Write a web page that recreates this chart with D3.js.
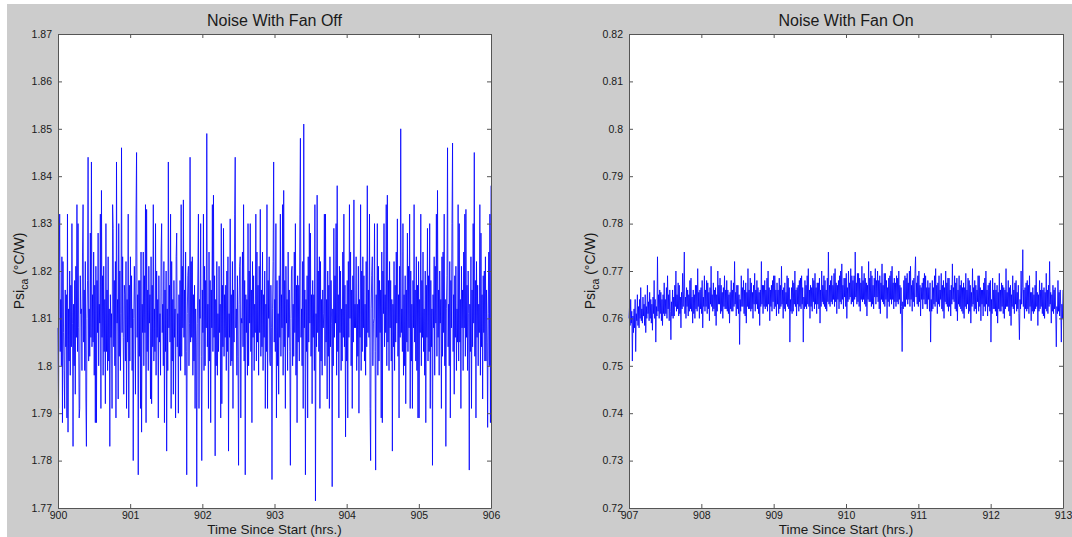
<!DOCTYPE html>
<html lang="en">
<head>
    <meta charset="UTF-8">
    <title>Noise With Fan Off / On</title>
    <script src="https://cdn.jsdelivr.net/npm/d3@7"></script>
    <style>
        html, body { margin: 0; padding: 0; background: #ffffff; }
        svg { display: block; }
        text { font-family: "Liberation Sans", Arial, sans-serif; fill: #1a1a1a; }
    </style>
</head>
<body>
<div id="chart"></div>
<script>

    // ---- data ----

    const titles = ['Noise With Fan Off', 'Noise With Fan On'];
    const xLabel = 'Time Since Start (hrs.)';

    const xRangeOff = [900, 906];
    const xRangeOn = [907, 913];
    const xTicksOff = [900, 901, 902, 903, 904, 905, 906];
    const xTicksOn = [907, 908, 909, 910, 911, 912, 913];

    const yTicksOff = [1.77, 1.78, 1.79, 1.8, 1.81, 1.82, 1.83, 1.84, 1.85, 1.86, 1.87];
    const yTicksOn = [0.72, 0.73, 0.74, 0.75, 0.76, 0.77, 0.78, 0.79, 0.8, 0.81, 0.82];

    // Psi_ca samples, fan off (900 - 906 h)
    const psiFanOff = [
        1.808, 1.791, 1.819, 1.832, 1.803, 1.814, 1.800, 1.823, 1.788, 1.822, 1.807, 1.799, 1.791, 1.816, 1.804, 1.815, 1.789, 1.832, 1.786, 1.812, 1.801, 1.820, 1.798, 1.817, 1.804, 1.830, 1.809, 1.783, 1.813, 1.800,
        1.818, 1.794, 1.821, 1.806, 1.834, 1.803, 1.830, 1.808, 1.789, 1.791, 1.819, 1.811, 1.812, 1.799, 1.824, 1.834, 1.805, 1.816, 1.799, 1.822, 1.793, 1.783, 1.810, 1.818, 1.844, 1.801, 1.812, 1.802, 1.828, 1.806,
        1.843, 1.804, 1.815, 1.805, 1.824, 1.798, 1.817, 1.788, 1.821, 1.788, 1.818, 1.807, 1.828, 1.800, 1.813, 1.809, 1.832, 1.791, 1.837, 1.806, 1.819, 1.798, 1.821, 1.803, 1.814, 1.792, 1.830, 1.803, 1.816, 1.799,
        1.823, 1.801, 1.812, 1.783, 1.815, 1.806, 1.811, 1.791, 1.834, 1.829, 1.804, 1.818, 1.800, 1.822, 1.789, 1.843, 1.809, 1.814, 1.793, 1.830, 1.802, 1.820, 1.799, 1.811, 1.846, 1.807, 1.823, 1.806, 1.794, 1.817,
        1.815, 1.801, 1.822, 1.791, 1.814, 1.805, 1.832, 1.789, 1.817, 1.801, 1.823, 1.808, 1.819, 1.799, 1.812, 1.780, 1.810, 1.821, 1.812, 1.794, 1.832, 1.845, 1.806, 1.815, 1.777, 1.818, 1.802, 1.818, 1.791, 1.824,
        1.786, 1.813, 1.807, 1.824, 1.800, 1.819, 1.807, 1.834, 1.788, 1.833, 1.803, 1.816, 1.799, 1.821, 1.809, 1.815, 1.793, 1.823, 1.792, 1.817, 1.804, 1.834, 1.801, 1.812, 1.803, 1.830, 1.798, 1.820, 1.806, 1.814,
        1.789, 1.819, 1.805, 1.811, 1.798, 1.824, 1.830, 1.807, 1.813, 1.800, 1.822, 1.788, 1.816, 1.803, 1.820, 1.782, 1.812, 1.799, 1.843, 1.808, 1.817, 1.805, 1.832, 1.791, 1.822, 1.801, 1.814, 1.794, 1.818, 1.806,
        1.812, 1.789, 1.823, 1.828, 1.804, 1.811, 1.790, 1.815, 1.802, 1.818, 1.799, 1.834, 1.802, 1.821, 1.808, 1.835, 1.806, 1.816, 1.798, 1.824, 1.803, 1.777, 1.811, 1.819, 1.821, 1.800, 1.809, 1.844, 1.805, 1.822,
        1.806, 1.823, 1.798, 1.815, 1.801, 1.817, 1.791, 1.812, 1.805, 1.7745, 1.809, 1.820, 1.832, 1.791, 1.814, 1.810, 1.830, 1.802, 1.780, 1.816, 1.807, 1.832, 1.799, 1.821, 1.800, 1.818, 1.808, 1.849, 1.804, 1.813,
        1.791, 1.824, 1.801, 1.818, 1.788, 1.816, 1.808, 1.834, 1.803, 1.836, 1.806, 1.819, 1.781, 1.814, 1.800, 1.822, 1.798, 1.811, 1.803, 1.821, 1.807, 1.813, 1.789, 1.830, 1.792, 1.817, 1.804, 1.829, 1.802, 1.815,
        1.806, 1.817, 1.799, 1.820, 1.803, 1.823, 1.782, 1.811, 1.806, 1.831, 1.800, 1.815, 1.801, 1.822, 1.791, 1.816, 1.805, 1.832, 1.844, 1.808, 1.812, 1.798, 1.819, 1.802, 1.779, 1.813, 1.821, 1.823, 1.789, 1.810,
        1.809, 1.824, 1.804, 1.834, 1.801, 1.818, 1.777, 1.815, 1.807, 1.814, 1.798, 1.830, 1.800, 1.820, 1.809, 1.830, 1.803, 1.816, 1.788, 1.822, 1.806, 1.819, 1.799, 1.813, 1.807, 1.832, 1.801, 1.824, 1.805, 1.817,
        1.798, 1.821, 1.807, 1.833, 1.802, 1.816, 1.804, 1.824, 1.799, 1.815, 1.806, 1.820, 1.791, 1.813, 1.803, 1.834, 1.791, 1.818, 1.810, 1.823, 1.801, 1.800, 1.817, 1.808, 1.776, 1.812, 1.822, 1.843, 1.805, 1.814,
        1.803, 1.830, 1.789, 1.818, 1.800, 1.811, 1.794, 1.819, 1.806, 1.832, 1.802, 1.815, 1.808, 1.834, 1.798, 1.837, 1.804, 1.818, 1.791, 1.821, 1.809, 1.814, 1.799, 1.824, 1.806, 1.816, 1.803, 1.779, 1.810, 1.820,
        1.821, 1.800, 1.813, 1.802, 1.824, 1.807, 1.830, 1.798, 1.817, 1.788, 1.819, 1.805, 1.817, 1.801, 1.832, 1.848, 1.806, 1.812, 1.800, 1.822, 1.791, 1.851, 1.808, 1.816, 1.777, 1.814, 1.803, 1.819, 1.789, 1.823,
        1.805, 1.830, 1.809, 1.828, 1.802, 1.815, 1.792, 1.818, 1.806, 1.815, 1.799, 1.834, 1.7715, 1.811, 1.804, 1.836, 1.807, 1.820, 1.803, 1.823, 1.791, 1.822, 1.801, 1.814, 1.798, 1.816, 1.808, 1.811, 1.832, 1.800,
        1.832, 1.805, 1.814, 1.793, 1.820, 1.802, 1.817, 1.791, 1.823, 1.804, 1.818, 1.809, 1.7745, 1.812, 1.800, 1.829, 1.806, 1.819, 1.809, 1.830, 1.798, 1.838, 1.803, 1.815, 1.789, 1.821, 1.807, 1.820, 1.799, 1.812,
        1.801, 1.824, 1.806, 1.832, 1.804, 1.817, 1.785, 1.813, 1.801, 1.818, 1.789, 1.822, 1.806, 1.834, 1.810, 1.824, 1.800, 1.816, 1.791, 1.819, 1.805, 1.835, 1.808, 1.813, 1.808, 1.823, 1.799, 1.813, 1.802, 1.821,
        1.790, 1.814, 1.806, 1.834, 1.799, 1.820, 1.803, 1.823, 1.808, 1.819, 1.801, 1.813, 1.798, 1.822, 1.804, 1.838, 1.807, 1.816, 1.806, 1.832, 1.791, 1.780, 1.812, 1.819, 1.823, 1.800, 1.809, 1.810, 1.830, 1.803,
        1.778, 1.815, 1.806, 1.830, 1.798, 1.821, 1.801, 1.818, 1.807, 1.816, 1.789, 1.824, 1.788, 1.820, 1.811, 1.830, 1.804, 1.815, 1.807, 1.834, 1.800, 1.836, 1.805, 1.818, 1.799, 1.822, 1.808, 1.818, 1.801, 1.814,
        1.782, 1.813, 1.804, 1.822, 1.799, 1.817, 1.805, 1.824, 1.809, 1.831, 1.802, 1.815, 1.789, 1.821, 1.806, 1.850, 1.807, 1.812, 1.803, 1.830, 1.798, 1.815, 1.800, 1.819, 1.792, 1.816, 1.805, 1.828, 1.803, 1.821,
        1.808, 1.832, 1.791, 1.820, 1.801, 1.813, 1.791, 1.818, 1.808, 1.834, 1.805, 1.816, 1.801, 1.823, 1.799, 1.817, 1.789, 1.822, 1.789, 1.814, 1.807, 1.832, 1.800, 1.818, 1.806, 1.824, 1.803, 1.812, 1.798, 1.820,
        1.788, 1.817, 1.806, 1.829, 1.801, 1.819, 1.803, 1.830, 1.791, 1.818, 1.804, 1.812, 1.779, 1.815, 1.808, 1.823, 1.798, 1.821, 1.809, 1.832, 1.802, 1.837, 1.806, 1.816, 1.798, 1.820, 1.809, 1.814, 1.791, 1.823,
        1.802, 1.824, 1.807, 1.832, 1.800, 1.814, 1.783, 1.812, 1.819, 1.846, 1.804, 1.813, 1.800, 1.822, 1.789, 1.818, 1.808, 1.830, 1.847, 1.803, 1.815, 1.794, 1.819, 1.806, 1.821, 1.799, 1.812, 1.805, 1.834, 1.801,
        1.830, 1.805, 1.814, 1.791, 1.821, 1.808, 1.816, 1.799, 1.824, 1.808, 1.832, 1.802, 1.833, 1.806, 1.817, 1.799, 1.820, 1.811, 1.778, 1.813, 1.803, 1.823, 1.791, 1.816, 1.804, 1.830, 1.809, 1.845, 1.802, 1.818,
        1.789, 1.822, 1.806, 1.817, 1.800, 1.813, 1.807, 1.834, 1.798, 1.828, 1.804, 1.815, 1.793, 1.819, 1.807, 1.820, 1.801, 1.823, 1.801, 1.816, 1.805, 1.787, 1.811, 1.824, 1.800, 1.832, 1.788, 1.838
    ];

    // Psi_ca samples, fan on (907 - 913 h)
    const psiFanOn = [
        0.7600, 0.7625, 0.7585, 0.7640, 0.7590, 0.7615, 0.7510, 0.7605, 0.7570, 0.7620, 0.7580, 0.7640, 0.7530, 0.7610, 0.7595, 0.7650, 0.7585, 0.7625, 0.7580, 0.7640, 0.7600, 0.7665, 0.7595, 0.7620, 0.7590, 0.7645, 0.7605, 0.7630, 0.7585, 0.7650,
        0.7570, 0.7625, 0.7600, 0.7670, 0.7610, 0.7635, 0.7595, 0.7655, 0.7600, 0.7640, 0.7590, 0.7630, 0.7575, 0.7645, 0.7610, 0.7680, 0.7600, 0.7640, 0.7550, 0.7625, 0.7605, 0.7730, 0.7615, 0.7650, 0.7600, 0.7660, 0.7610, 0.7655, 0.7595, 0.7640,
        0.7585, 0.7650, 0.7610, 0.7675, 0.7605, 0.7640, 0.7610, 0.7665, 0.7600, 0.7690, 0.7620, 0.7650, 0.7595, 0.7660, 0.7615, 0.7555, 0.7635, 0.7605, 0.7660, 0.7600, 0.7645, 0.7605, 0.7670, 0.7625, 0.7700, 0.7615, 0.7650, 0.7620, 0.7675, 0.7605,
        0.7670, 0.7610, 0.7645, 0.7580, 0.7655, 0.7620, 0.7695, 0.7625, 0.7660, 0.7740, 0.7610, 0.7645, 0.7600, 0.7665, 0.7625, 0.7660, 0.7605, 0.7650, 0.7615, 0.7680, 0.7620, 0.7685, 0.7615, 0.7645, 0.7590, 0.7660, 0.7610, 0.7650, 0.7600, 0.7670,
        0.7620, 0.7670, 0.7615, 0.7705, 0.7625, 0.7655, 0.7600, 0.7660, 0.7620, 0.7665, 0.7610, 0.7680, 0.7580, 0.7645, 0.7625, 0.7690, 0.7615, 0.7660, 0.7625, 0.7680, 0.7610, 0.7675, 0.7620, 0.7655, 0.7595, 0.7665, 0.7630, 0.7710, 0.7625, 0.7650,
        0.7615, 0.7675, 0.7620, 0.7660, 0.7605, 0.7665, 0.7585, 0.7650, 0.7615, 0.7700, 0.7630, 0.7670, 0.7630, 0.7685, 0.7610, 0.7670, 0.7615, 0.7655, 0.7600, 0.7665, 0.7625, 0.7690, 0.7620, 0.7660, 0.7620, 0.7680, 0.7615, 0.7660, 0.7610, 0.7650,
        0.7590, 0.7655, 0.7620, 0.7680, 0.7615, 0.7660, 0.7615, 0.7675, 0.7625, 0.7720, 0.7630, 0.7655, 0.7605, 0.7670, 0.7620, 0.7670, 0.7610, 0.7650, 0.7545, 0.7640, 0.7615, 0.7690, 0.7625, 0.7665, 0.7625, 0.7680, 0.7610, 0.7660, 0.7605, 0.7675,
        0.7590, 0.7655, 0.7625, 0.7705, 0.7620, 0.7660, 0.7620, 0.7685, 0.7615, 0.7675, 0.7620, 0.7655, 0.7600, 0.7670, 0.7630, 0.7695, 0.7615, 0.7660, 0.7630, 0.7680, 0.7620, 0.7665, 0.7610, 0.7655, 0.7585, 0.7660, 0.7625, 0.7720, 0.7630, 0.7670,
        0.7610, 0.7670, 0.7625, 0.7680, 0.7620, 0.7660, 0.7625, 0.7685, 0.7615, 0.7700, 0.7630, 0.7665, 0.7595, 0.7660, 0.7625, 0.7670, 0.7615, 0.7680, 0.7635, 0.7690, 0.7620, 0.7690, 0.7625, 0.7660, 0.7605, 0.7675, 0.7630, 0.7660, 0.7610, 0.7685,
        0.7620, 0.7670, 0.7625, 0.7710, 0.7630, 0.7660, 0.7600, 0.7665, 0.7620, 0.7675, 0.7615, 0.7655, 0.7630, 0.7690, 0.7625, 0.7685, 0.7620, 0.7665, 0.7550, 0.7640, 0.7615, 0.7665, 0.7610, 0.7680, 0.7615, 0.7675, 0.7630, 0.7700, 0.7625, 0.7660,
        0.7605, 0.7665, 0.7630, 0.7670, 0.7615, 0.7680, 0.7625, 0.7685, 0.7620, 0.7690, 0.7630, 0.7665, 0.7550, 0.7645, 0.7620, 0.7680, 0.7625, 0.7670, 0.7620, 0.7690, 0.7630, 0.7705, 0.7625, 0.7660, 0.7600, 0.7670, 0.7625, 0.7665, 0.7615, 0.7685,
        0.7635, 0.7680, 0.7620, 0.7695, 0.7630, 0.7665, 0.7610, 0.7675, 0.7630, 0.7675, 0.7620, 0.7685, 0.7590, 0.7660, 0.7625, 0.7700, 0.7635, 0.7670, 0.7630, 0.7690, 0.7625, 0.7680, 0.7620, 0.7660, 0.7615, 0.7685, 0.7635, 0.7740, 0.7630, 0.7670,
        0.7625, 0.7680, 0.7635, 0.7690, 0.7630, 0.7670, 0.7640, 0.7695, 0.7625, 0.7705, 0.7635, 0.7675, 0.7610, 0.7670, 0.7640, 0.7680, 0.7620, 0.7690, 0.7635, 0.7700, 0.7630, 0.7715, 0.7640, 0.7670, 0.7620, 0.7685, 0.7645, 0.7685, 0.7625, 0.7695,
        0.7600, 0.7665, 0.7635, 0.7700, 0.7640, 0.7675, 0.7645, 0.7705, 0.7630, 0.7690, 0.7635, 0.7680, 0.7625, 0.7690, 0.7640, 0.7740, 0.7645, 0.7675, 0.7630, 0.7695, 0.7635, 0.7695, 0.7625, 0.7685, 0.7615, 0.7675, 0.7640, 0.7710, 0.7635, 0.7680,
        0.7640, 0.7695, 0.7630, 0.7685, 0.7625, 0.7675, 0.7605, 0.7670, 0.7640, 0.7720, 0.7635, 0.7685, 0.7635, 0.7700, 0.7625, 0.7690, 0.7630, 0.7670, 0.7620, 0.7685, 0.7645, 0.7705, 0.7630, 0.7680, 0.7645, 0.7700, 0.7635, 0.7680, 0.7620, 0.7690,
        0.7610, 0.7675, 0.7640, 0.7715, 0.7635, 0.7670, 0.7630, 0.7695, 0.7625, 0.7695, 0.7640, 0.7680, 0.7600, 0.7665, 0.7635, 0.7685, 0.7625, 0.7690, 0.7640, 0.7700, 0.7630, 0.7710, 0.7640, 0.7675, 0.7620, 0.7685, 0.7635, 0.7675, 0.7625, 0.7690,
        0.7635, 0.7685, 0.7630, 0.7700, 0.7640, 0.7670, 0.7610, 0.7665, 0.7625, 0.7530, 0.7635, 0.7620, 0.7680, 0.7625, 0.7690, 0.7625, 0.7685, 0.7640, 0.7695, 0.7630, 0.7675, 0.7640, 0.7700, 0.7625, 0.7710, 0.7640, 0.7670, 0.7615, 0.7680, 0.7635,
        0.7685, 0.7625, 0.7695, 0.7730, 0.7645, 0.7675, 0.7630, 0.7690, 0.7625, 0.7700, 0.7635, 0.7670, 0.7605, 0.7665, 0.7640, 0.7675, 0.7620, 0.7685, 0.7640, 0.7695, 0.7630, 0.7690, 0.7630, 0.7665, 0.7620, 0.7680, 0.7640, 0.7665, 0.7615, 0.7675,
        0.7550, 0.7640, 0.7615, 0.7680, 0.7620, 0.7665, 0.7630, 0.7690, 0.7625, 0.7705, 0.7635, 0.7670, 0.7610, 0.7675, 0.7630, 0.7690, 0.7625, 0.7660, 0.7640, 0.7695, 0.7620, 0.7670, 0.7615, 0.7680, 0.7600, 0.7665, 0.7635, 0.7700, 0.7630, 0.7675,
        0.7625, 0.7685, 0.7615, 0.7685, 0.7625, 0.7660, 0.7605, 0.7670, 0.7630, 0.7715, 0.7640, 0.7665, 0.7635, 0.7690, 0.7620, 0.7675, 0.7615, 0.7685, 0.7595, 0.7660, 0.7630, 0.7690, 0.7625, 0.7670, 0.7620, 0.7680, 0.7615, 0.7665, 0.7610, 0.7675,
        0.7600, 0.7665, 0.7625, 0.7695, 0.7620, 0.7660, 0.7630, 0.7685, 0.7610, 0.7680, 0.7615, 0.7670, 0.7590, 0.7655, 0.7625, 0.7705, 0.7630, 0.7665, 0.7615, 0.7680, 0.7620, 0.7670, 0.7610, 0.7660, 0.7635, 0.7690, 0.7615, 0.7690, 0.7625, 0.7665,
        0.7595, 0.7660, 0.7630, 0.7660, 0.7605, 0.7675, 0.7625, 0.7685, 0.7615, 0.7700, 0.7630, 0.7660, 0.7605, 0.7670, 0.7625, 0.7675, 0.7615, 0.7680, 0.7550, 0.7640, 0.7610, 0.7685, 0.7620, 0.7660, 0.7620, 0.7675, 0.7615, 0.7660, 0.7605, 0.7670,
        0.7590, 0.7655, 0.7620, 0.7695, 0.7615, 0.7660, 0.7615, 0.7675, 0.7625, 0.7670, 0.7610, 0.7665, 0.7600, 0.7660, 0.7620, 0.7705, 0.7625, 0.7655, 0.7625, 0.7680, 0.7615, 0.7665, 0.7605, 0.7670, 0.7585, 0.7650, 0.7625, 0.7690, 0.7620, 0.7660,
        0.7610, 0.7675, 0.7630, 0.7680, 0.7615, 0.7655, 0.7620, 0.7670, 0.7610, 0.7555, 0.7640, 0.7620, 0.7700, 0.7630, 0.7665, 0.7745, 0.7625, 0.7660, 0.7600, 0.7665, 0.7620, 0.7675, 0.7615, 0.7680, 0.7620, 0.7670, 0.7610, 0.7690, 0.7625, 0.7655,
        0.7595, 0.7655, 0.7615, 0.7665, 0.7610, 0.7650, 0.7615, 0.7670, 0.7620, 0.7700, 0.7625, 0.7655, 0.7585, 0.7650, 0.7615, 0.7680, 0.7620, 0.7660, 0.7625, 0.7675, 0.7610, 0.7660, 0.7605, 0.7665, 0.7600, 0.7655, 0.7620, 0.7695, 0.7615, 0.7660,
        0.7610, 0.7670, 0.7625, 0.7720, 0.7630, 0.7655, 0.7590, 0.7650, 0.7615, 0.7670, 0.7610, 0.7660, 0.7620, 0.7665, 0.7605, 0.7540, 0.7625, 0.7610, 0.7680, 0.7615, 0.7655, 0.7605, 0.7660, 0.7620, 0.7550, 0.7630, 0.7600, 0.7660
    ];

</script>

<script>

    const width = 1072;
    const height = 537;

    const svg = d3.select('#chart')
        .append('svg')
        .attr('width', width)
        .attr('height', height);

    // grey figure background
    svg.append('rect')
        .attr('x', 7)
        .attr('y', 4)
        .attr('width', width - 7)
        .attr('height', height - 4)
        .attr('fill', '#cccccc');

    const fmtTick = (v) => String(+v.toFixed(2));

    const drawPanel = (p) => {

        const xScale = d3.scaleLinear().domain(p.xDomain).range([p.left, p.right]);
        const yScale = d3.scaleLinear().domain([p.yTicks[0], p.yTicks[p.yTicks.length - 1]]).range([p.bottom, p.top]);

        // evenly spaced samples across the time window
        const step = (p.xDomain[1] - p.xDomain[0]) / (p.values.length - 1);
        const points = p.values.map((v, i) => ({ t: p.xDomain[0] + i * step, v: v }));

        const g = svg.append('g');

        g.append('rect')
            .attr('x', p.left)
            .attr('y', p.top)
            .attr('width', p.right - p.left)
            .attr('height', p.bottom - p.top)
            .attr('fill', '#ffffff');

        const line = d3.line()
            .x((d) => xScale(d.t))
            .y((d) => yScale(d.v));

        g.append('path')
            .datum(points)
            .attr('fill', 'none')
            .attr('stroke', '#0000ff')
            .attr('stroke-width', 0.8)
            .attr('d', line);

        // axes, ticks pointing inward (MATLAB style)
        const axisBottom = d3.axisBottom(xScale).tickValues(p.xTicks).tickSizeInner(-4).tickSizeOuter(0).tickPadding(4).tickFormat(d3.format('d'));
        const axisTop = d3.axisTop(xScale).tickValues(p.xTicks).tickSizeInner(-4).tickSizeOuter(0).tickFormat('');
        const axisLeft = d3.axisLeft(yScale).tickValues(p.yTicks).tickSizeInner(4).tickSizeOuter(0).tickPadding(2).tickFormat(fmtTick);
        const axisRight = d3.axisRight(yScale).tickValues(p.yTicks).tickSizeInner(-4).tickSizeOuter(0).tickFormat('');

        const styleAxis = (sel) => {
            sel.selectAll('path').attr('stroke', '#555555').attr('stroke-width', 1);
            sel.selectAll('line').attr('stroke', '#555555');
            sel.selectAll('text').attr('font-size', 10.5).attr('fill', '#1a1a1a')
                .style('font-family', '"Liberation Sans", Arial, sans-serif');
        };

        g.append('g').attr('transform', `translate(0, ${p.bottom})`).call(axisBottom).call(styleAxis);
        g.append('g').attr('transform', `translate(0, ${p.top})`).call(axisTop).call(styleAxis);
        // left ticks drawn inward: shift tick lines to the inside
        const gl = g.append('g').attr('transform', `translate(${p.left}, 0)`).call(axisLeft).call(styleAxis);
        gl.selectAll('.tick line').attr('x2', 4);
        g.append('g').attr('transform', `translate(${p.right}, 0)`).call(axisRight).call(styleAxis);

        // title
        g.append('text')
            .attr('x', (p.left + p.right) / 2)
            .attr('y', 26)
            .attr('text-anchor', 'middle')
            .attr('font-size', 16)
            .text(p.title);

        // x label
        g.append('text')
            .attr('x', (p.left + p.right) / 2)
            .attr('y', 534)
            .attr('text-anchor', 'middle')
            .attr('font-size', 13.5)
            .text(xLabel);

        // y label with subscript
        const yl = g.append('text')
            .attr('transform', `translate(${p.left - 34}, ${(p.top + p.bottom) / 2}) rotate(-90)`)
            .attr('text-anchor', 'middle')
            .attr('font-size', 14);
        yl.append('tspan').text('Psi');
        yl.append('tspan').attr('font-size', 10.5).attr('dy', 4).text('ca');
        yl.append('tspan').attr('dy', -4).text(' (\u00B0C/W)');

    };

    drawPanel({
        title: titles[0],
        values: psiFanOff,
        xDomain: xRangeOff,
        xTicks: xTicksOff,
        yTicks: yTicksOff,
        left: 58, right: 491, top: 34, bottom: 508
    });

    drawPanel({
        title: titles[1],
        values: psiFanOn,
        xDomain: xRangeOn,
        xTicks: xTicksOn,
        yTicks: yTicksOn,
        left: 629, right: 1063, top: 34, bottom: 508
    });

</script>
</body>
</html>
